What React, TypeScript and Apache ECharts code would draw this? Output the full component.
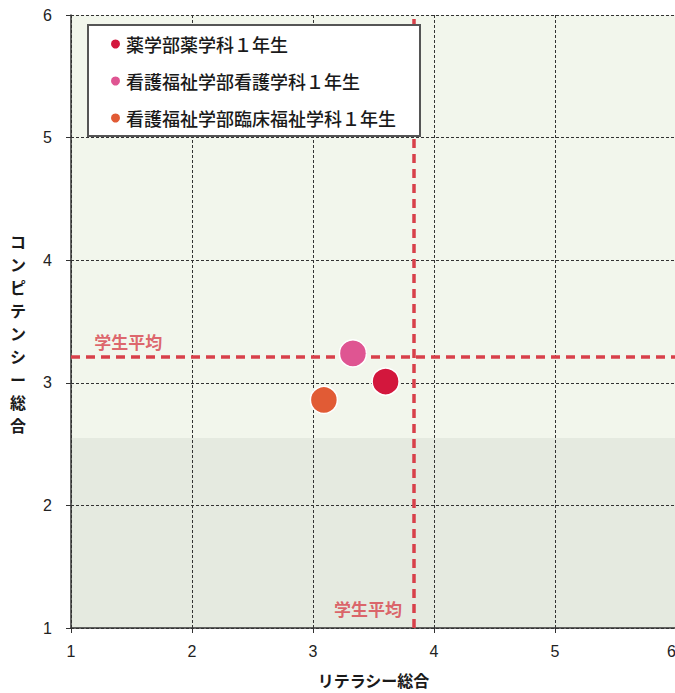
import React, { useEffect, useRef } from "react";
import * as echarts from "echarts";

// Groups plotted: literacy (x) vs competency (y) composite scores
const groupNames = [
  "薬学部薬学科１年生",
  "看護福祉学部看護学科１年生",
  "看護福祉学部臨床福祉学科１年生",
];
const groupColors = ["#d3173d", "#df5592", "#e15b35"];
const literacyScores = [3.6, 3.33, 3.09];
const competencyScores = [3.01, 3.24, 2.86];

// Student averages
const avgLiteracy = 3.835;
const avgCompetency = 3.205;
const avgLabel = "学生平均";

const axisTicks = [1, 2, 3, 4, 5, 6];
const xAxisName = "リテラシー総合";
const yAxisName = "コンピテンシー総合";

const JP = '"Noto Sans CJK JP", "Noto Sans", sans-serif';
const NUM = '"Liberation Sans Narrow", "Liberation Sans", sans-serif';
const AVG_COLOR = "#d8404a";
const GRID_LINE = { color: "#333333", type: [3, 2], width: 1 };

// Plot-area tint: pale green above, a greyer band across the lower part
const BAND_SPLIT = 0.69;
const plotTint = new echarts.graphic.LinearGradient(0, 0, 0, 1, [
  { offset: 0, color: "#f2f6ec" },
  { offset: BAND_SPLIT, color: "#f2f6ec" },
  { offset: BAND_SPLIT, color: "#e5eae0" },
  { offset: 1, color: "#e5eae0" },
]);

export default function App() {
  const ref = useRef<HTMLDivElement>(null);

  useEffect(() => {
    if (!ref.current) return;
    const chart = echarts.init(ref.current, null, { renderer: "svg" });

    const scatterSeries = groupNames.map((name, i) => ({
      name,
      type: "scatter",
      symbol: "circle",
      symbolSize: 27,
      itemStyle: { color: groupColors[i], opacity: 1, borderColor: "#ffffff", borderWidth: 1.5 },
      data: [[literacyScores[i], competencyScores[i]]],
      z: 5,
    }));

    const option: any = {
      animation: false,
      backgroundColor: "#ffffff",
      grid: {
        left: 71,
        top: 15,
        width: 605,
        bottom: 65,
        containLabel: false,
        outerBoundsMode: "none",
        show: true,
        borderWidth: 0,
        backgroundColor: plotTint,
      },
      legend: {
        data: groupNames,
        orient: "vertical",
        left: 88,
        top: 25,
        icon: "circle",
        itemWidth: 11,
        itemHeight: 11,
        itemGap: 19,
        padding: [10, 24, 9, 21],
        backgroundColor: "#ffffff",
        borderColor: "#555555",
        borderWidth: 2,
        textStyle: { fontFamily: JP, fontSize: 18, color: "#1a1a1a", fontWeight: 500 },
        z: 10,
      },
      xAxis: {
        type: "value",
        min: axisTicks[0],
        max: axisTicks[axisTicks.length - 1],
        interval: 1,
        name: xAxisName,
        nameLocation: "middle",
        nameGap: 44,
        nameTextStyle: { fontFamily: JP, fontSize: 16, fontWeight: "bold", color: "#1a1a1a" },
        axisLine: { show: true, onZero: false, lineStyle: { color: "#333333", width: 1.5 } },
        axisTick: { show: true, length: 5, lineStyle: { color: "#333333" } },
        axisLabel: {
          fontFamily: NUM,
          fontSize: 16,
          color: "#222222",
          margin: 15,
          alignMaxLabel: "right",
        },
        splitLine: { show: true, lineStyle: GRID_LINE },
      },
      yAxis: {
        type: "value",
        min: axisTicks[0],
        max: axisTicks[axisTicks.length - 1],
        interval: 1,
        // stacked one character per line, nudged down by a leading blank line
        name: "\n" + yAxisName.split("").join("\n"),
        nameLocation: "middle",
        nameRotate: 0,
        nameGap: 45,
        nameTextStyle: {
          fontFamily: JP,
          fontSize: 16,
          fontWeight: "bold",
          color: "#1a1a1a",
          lineHeight: 23,
        },
        axisLine: { show: true, onZero: false, lineStyle: { color: "#333333", width: 1.5 } },
        axisTick: { show: true, length: 5, lineStyle: { color: "#333333" } },
        axisLabel: { fontFamily: NUM, fontSize: 16, color: "#222222", margin: 19 },
        splitLine: { show: true, lineStyle: GRID_LINE },
      },
      series: [
        // Student average lines
        {
          name: "avg",
          type: "scatter",
          data: [],
          silent: true,
          z: 2,
          markLine: {
            silent: true,
            symbol: ["none", "none"],
            label: { show: false },
            lineStyle: { color: AVG_COLOR, width: 3.5, type: [9, 6] },
            data: [{ xAxis: avgLiteracy }, { yAxis: avgCompetency }],
          },
        },
        // Captions for the average lines
        {
          name: "avgLabels",
          type: "scatter",
          symbolSize: 0,
          silent: true,
          data: [
            { value: [1.2, avgCompetency], label: { position: "right", offset: [-6, -16] } },
            { value: [avgLiteracy, 1.16], label: { position: "left", distance: 12 } },
          ],
          label: {
            show: true,
            formatter: avgLabel,
            fontFamily: JP,
            fontSize: 17,
            fontWeight: "bold",
            color: AVG_COLOR,
          },
          z: 3,
        },
        ...scatterSeries,
      ],
    };

    chart.setOption(option);
    return () => chart.dispose();
  }, []);

  return (
    <div
      ref={ref}
      style={{ position: "absolute", left: 0, top: 0, width: 675, height: 693 }}
    />
  );
}
